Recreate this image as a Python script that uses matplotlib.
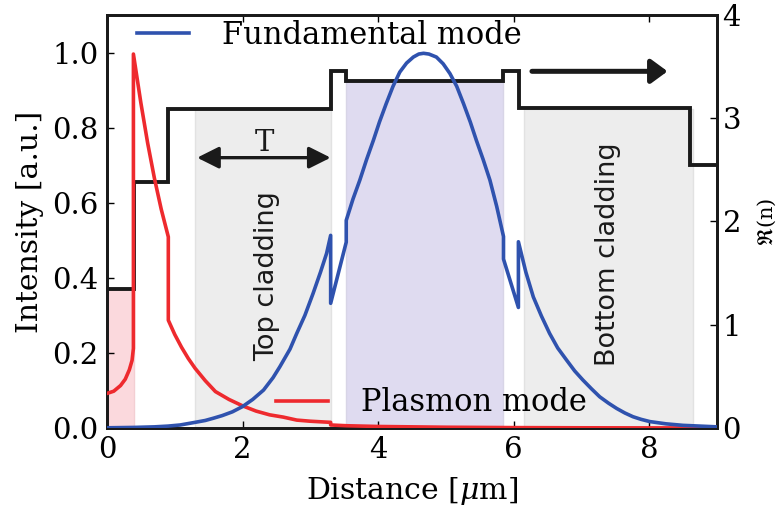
import matplotlib
matplotlib.use("Agg")
import matplotlib.pyplot as plt

plt.rcParams['font.family'] = 'serif'
plt.rcParams['font.serif'] = ['DejaVu Serif']
plt.rcParams['mathtext.fontset'] = 'dejavuserif'

# ---- data ----
# refractive index profile (right axis), piecewise constant
n_edges = [0.0, 0.4, 0.9, 3.3, 3.53, 5.85, 6.08, 8.6, 9.0]
n_values = [1.35, 2.38, 3.09, 3.46, 3.36, 3.46, 3.10, 2.55]

# shaded layers: (start, end, top index)
layer_start = [0.0, 1.3, 3.53, 6.15]
layer_end = [0.4, 3.3, 5.85, 8.64]
layer_top = [1.35, 3.09, 3.36, 3.09]

# plasmon mode intensity
plasmon_x = [0, 0.1, 0.2, 0.27, 0.33, 0.37, 0.39, 0.39, 0.5, 0.6, 0.7, 0.8, 0.905, 0.905,
             1.0, 1.1, 1.2, 1.3, 1.45, 1.6, 1.8, 2.0, 2.2, 2.4, 2.6, 2.8, 3.0,
             3.3, 3.3, 3.53, 4.0, 5.0, 6.0, 7.0, 9.0]
plasmon_y = [0.092, 0.098, 0.113, 0.13, 0.155, 0.18, 0.212, 0.996, 0.866, 0.759, 0.665,
             0.583, 0.509, 0.287, 0.249, 0.215, 0.185, 0.159, 0.126, 0.097, 0.076, 0.059,
             0.045, 0.035, 0.029, 0.021, 0.018, 0.015, 0.008, 0.006, 0.004, 0.002,
             0.001, 0.0005, 0.0]

# fundamental mode intensity
fund_x = [0, 0.4, 0.7, 0.9, 1.08, 1.3, 1.45, 1.57, 1.7, 1.85, 2.0, 2.15, 2.31, 2.45, 2.55,
          2.7, 2.8, 2.92, 3.04, 3.15, 3.24, 3.3, 3.3, 3.53, 3.53, 3.63, 3.73, 3.83, 3.93,
          4.02, 4.12, 4.22, 4.32, 4.42, 4.52, 4.6, 4.67, 4.75, 4.86, 4.96, 5.06, 5.16,
          5.26, 5.36, 5.45, 5.55, 5.65, 5.75, 5.85, 5.85, 6.07, 6.07, 6.18, 6.29, 6.41,
          6.53, 6.65, 6.78, 6.9, 7.02, 7.15, 7.27, 7.4, 7.52, 7.64, 7.76, 7.88, 8.01,
          8.25, 8.5, 8.75, 9.0]
fund_y = [0.0005, 0.0015, 0.003, 0.005, 0.008, 0.015, 0.02, 0.026, 0.033, 0.043, 0.057,
          0.076, 0.101, 0.134, 0.163, 0.21, 0.252, 0.30, 0.358, 0.415, 0.465, 0.513,
          0.332, 0.495, 0.553, 0.61, 0.66, 0.715, 0.766, 0.815, 0.864, 0.91, 0.948,
          0.972, 0.988, 0.996, 0.998, 0.996, 0.988, 0.97, 0.944, 0.91, 0.864, 0.815,
          0.766, 0.715, 0.66, 0.59, 0.51, 0.45, 0.321, 0.496, 0.415, 0.349, 0.298,
          0.252, 0.213, 0.181, 0.152, 0.128, 0.104, 0.083, 0.066, 0.052, 0.04, 0.030,
          0.023, 0.017, 0.011, 0.007, 0.005, 0.003]

x_ticks = [0, 2, 4, 6, 8]
left_ticks = [0.0, 0.2, 0.4, 0.6, 0.8, 1.0]
right_ticks = [0, 1, 2, 3, 4]

FS = 21
fig = plt.figure(figsize=(7.78, 5.12), dpi=100)
ax = fig.add_axes([0.1375, 0.1641, 0.7841, 0.8066])
ax2 = ax.twinx()
ax.set_zorder(ax2.get_zorder() + 1)
ax.patch.set_visible(False)

fill_colors = ['#fbd9dd', '#ededed', '#dfdbf0', '#ededed']
edge_colors = ['#f3cfd3', '#e2e2e2', '#d8d5e6', '#e2e2e2']
for s, e, t, fc, ec in zip(layer_start, layer_end, layer_top, fill_colors, edge_colors):
    ax2.fill_between([s, e], [0, 0], [t, t], facecolor=fc, edgecolor=ec, lw=1, zorder=1)

ax2.stairs(n_values, n_edges, color='#1a1a1a', lw=2.8, zorder=3, baseline=None)

ax.plot(plasmon_x, plasmon_y, color='#ee2a2e', lw=2.6, label='Plasmon mode', zorder=4)
ax.plot(fund_x, fund_y, color='#2f52ae', lw=2.6, label='Fundamental mode', zorder=5)

ax.set_xlim(0, 9)
ax.set_ylim(0, 1.1)
ax2.set_ylim(0, 4)
ax.set_xticks(x_ticks)
ax.set_yticks(left_ticks)
ax.set_yticklabels(['%.1f' % v for v in left_ticks])
ax2.set_yticks(right_ticks)

ax.tick_params(direction='in', top=True, right=False, labelsize=FS, length=5, width=1, pad=6)
ax2.tick_params(direction='in', labelsize=FS, length=5, width=1, pad=4)
for a in (ax, ax2):
    for sp in a.spines.values():
        sp.set_linewidth(2)
        sp.set_color('#1a1a1a')

ax.set_xlabel(r'Distance [$\mu$m]', fontsize=21.5, labelpad=8)
ax.set_ylabel('Intensity [a.u.]', fontsize=21.5, labelpad=6)
ax2.set_ylabel(r'$\Re$(n)', fontsize=15, labelpad=10)

h = ax.get_lines()
leg1 = ax.legend(handles=[h[1]], loc='center left', bbox_to_anchor=(0.049, 0.95),
                 frameon=False, borderpad=0, borderaxespad=0, handlelength=1.7,
                 handletextpad=1.1, fontsize=22)
ax.add_artist(leg1)
ax.legend(handles=[h[0]], loc='center left', bbox_to_anchor=(0.2766, 0.0605),
          frameon=False, borderpad=0, borderaxespad=0, handlelength=1.7,
          handletextpad=1.1, fontsize=22)

ax.annotate('', xy=(3.3, 0.72), xytext=(1.33, 0.72),
            arrowprops=dict(arrowstyle='<|-|>,head_length=0.6,head_width=0.3', lw=2.4,
                            color='#1a1a1a', mutation_scale=22, shrinkA=0, shrinkB=0))
ax.text(2.32, 0.758, 'T', fontsize=FS, ha='center', va='center', color='#1a1a1a')
ax.annotate('', xy=(8.27, 0.95), xytext=(6.27, 0.95),
            arrowprops=dict(arrowstyle='-|>,head_length=0.45,head_width=0.33', lw=3.6,
                            color='#1a1a1a', mutation_scale=22, shrinkA=0, shrinkB=0))

ax.text(2.36, 0.405, 'Top cladding', rotation=90, fontsize=19.5, family='DejaVu Sans',
        ha='center', va='center', color='#1a1a1a')
ax.text(7.39, 0.464, 'Bottom cladding', rotation=90, fontsize=19.5, family='DejaVu Sans',
        ha='center', va='center', color='#1a1a1a')

fig.savefig('out.png', dpi=100)
